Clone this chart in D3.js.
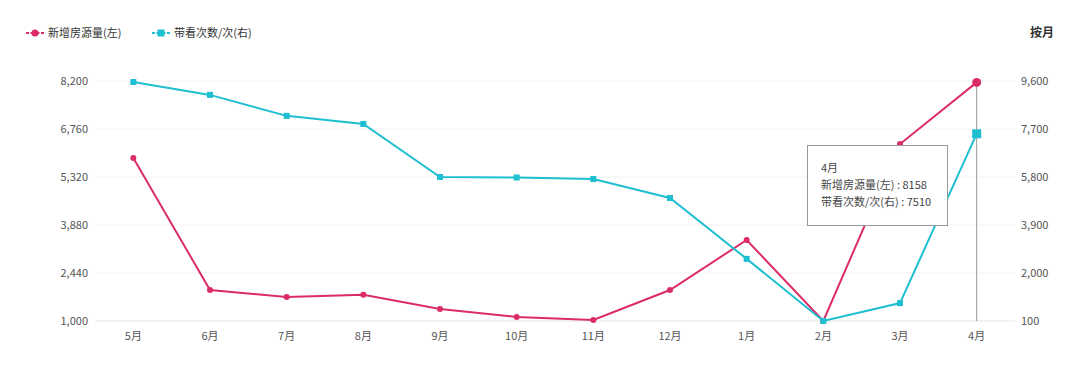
<!DOCTYPE html>
<html><head><meta charset="utf-8">
<script src="https://cdn.jsdelivr.net/npm/d3@7"></script>
<style>
body{margin:0;background:#fff;font-family:"Noto Sans CJK SC","Noto Sans",sans-serif;}
svg text{font-family:"Noto Sans CJK SC","Noto Sans",sans-serif;}
</style></head><body>
<svg id="c" width="1080" height="375"></svg>
<script>
const categories = ["5月","6月","7月","8月","9月","10月","11月","12月","1月","2月","3月","4月"];
const newListings = [5890,1930,1720,1790,1360,1120,1030,1930,3430,1000,6310,8158];
const viewings = [9560,9050,8220,7900,5800,5780,5720,4970,2560,100,810,7510];
const leftTicks = [1000,2440,3880,5320,6760,8200];
const rightTicks = [100,2000,3900,5800,7700,9600];
const seriesNames = ["新增房源量(左)","带看次数/次(右)"];
const tooltipIndex = 11;

const red = "#db2c67", cyan = "#1fbfd2";
const svg = d3.select("#c");
const x = d3.scaleBand().domain(categories).range([95,1015]);
const yL = d3.scaleLinear().domain([1000,8200]).range([321,81]);
const yR = d3.scaleLinear().domain([100,9600]).range([321,81]);
const cx = d => x(d) + x.bandwidth()/2;

// grid
svg.append("g").selectAll("line").data(leftTicks).join("line")
  .attr("x1",95).attr("x2",1015).attr("y1",d=>yL(d)).attr("y2",d=>yL(d))
  .attr("stroke",d=>d===1000?"#e6e6e6":"#f2f2f2").attr("stroke-width",1);

// axes
const fmt = d3.format(",");
const gl = svg.append("g").attr("transform","translate(88,0)")
  .call(d3.axisLeft(yL).tickValues(leftTicks).tickFormat(fmt).tickSize(0).tickPadding(0));
const gr = svg.append("g").attr("transform","translate(1021,0)")
  .call(d3.axisRight(yR).tickValues(rightTicks).tickFormat(fmt).tickSize(0).tickPadding(0));
const gb = svg.append("g").attr("transform","translate(0,321)")
  .call(d3.axisBottom(x).tickSize(0).tickPadding(11));
[gl,gr,gb].forEach(g=>{g.select(".domain").remove();
  g.selectAll("text").attr("fill","#555").style("font-size","11px");});

// cursor line
svg.append("line").attr("x1",cx(categories[tooltipIndex])).attr("x2",cx(categories[tooltipIndex]))
  .attr("y1",81).attr("y2",321).attr("stroke","#999").attr("stroke-width",1);

// lines
const lineL = d3.line().x((d,i)=>cx(categories[i])).y(d=>yL(d));
const lineR = d3.line().x((d,i)=>cx(categories[i])).y(d=>yR(d));
svg.append("path").datum(newListings).attr("d",lineL).attr("fill","none").attr("stroke",red).attr("stroke-width",2);
svg.append("path").datum(viewings).attr("d",lineR).attr("fill","none").attr("stroke",cyan).attr("stroke-width",2);

svg.append("g").selectAll("circle").data(newListings).join("circle")
  .attr("cx",(d,i)=>cx(categories[i])).attr("cy",d=>yL(d))
  .attr("r",(d,i)=>i===tooltipIndex?4.5:3).attr("fill",red);
svg.append("g").selectAll("rect").data(viewings).join("rect")
  .attr("x",(d,i)=>cx(categories[i])-(i===tooltipIndex?4.5:3))
  .attr("y",(d,i)=>yR(d)-(i===tooltipIndex?4.5:3))
  .attr("width",(d,i)=>i===tooltipIndex?9:6).attr("height",(d,i)=>i===tooltipIndex?9:6).attr("fill",cyan);

// legend
const leg = svg.append("g");
[[red,"c",26,seriesNames[0]],[cyan,"s",152,seriesNames[1]]].forEach(([col,shape,lx,name])=>{
  leg.append("line").attr("x1",lx).attr("x2",lx+18).attr("y1",33).attr("y2",33).attr("stroke",col).attr("stroke-width",2);
  if(shape==="c") leg.append("circle").attr("cx",lx+9).attr("cy",33).attr("r",3.5).attr("fill",col);
  else leg.append("rect").attr("x",lx+5.5).attr("y",29.5).attr("width",7).attr("height",7).attr("fill",col);
  leg.append("rect").attr("x",lx+3).attr("y",31).attr("width",1.5).attr("height",4).attr("fill","#fff");
  leg.append("rect").attr("x",lx+13.5).attr("y",31).attr("width",1.5).attr("height",4).attr("fill","#fff");
  leg.append("text").attr("x",lx+22).attr("y",37).text(name).attr("fill","#333").style("font-size","11px");
});
svg.append("text").attr("x",1030).attr("y",37).text("按月").attr("fill","#333")
  .style("font-size","12px").style("font-weight","bold");

// tooltip
const tt = svg.append("g").attr("transform","translate(807.5,145.5)");
tt.append("rect").attr("width",140).attr("height",80).attr("fill","#fff").attr("stroke","#999").attr("stroke-width",1);
const tl = [categories[tooltipIndex], seriesNames[0]+" : "+newListings[tooltipIndex], seriesNames[1]+" : "+viewings[tooltipIndex]];
tt.selectAll("text").data(tl).join("text").attr("x",13.5).attr("y",(d,i)=>26+i*17)
  .text(d=>d).attr("fill","#444").style("font-size","11px");
</script>
</body></html>
